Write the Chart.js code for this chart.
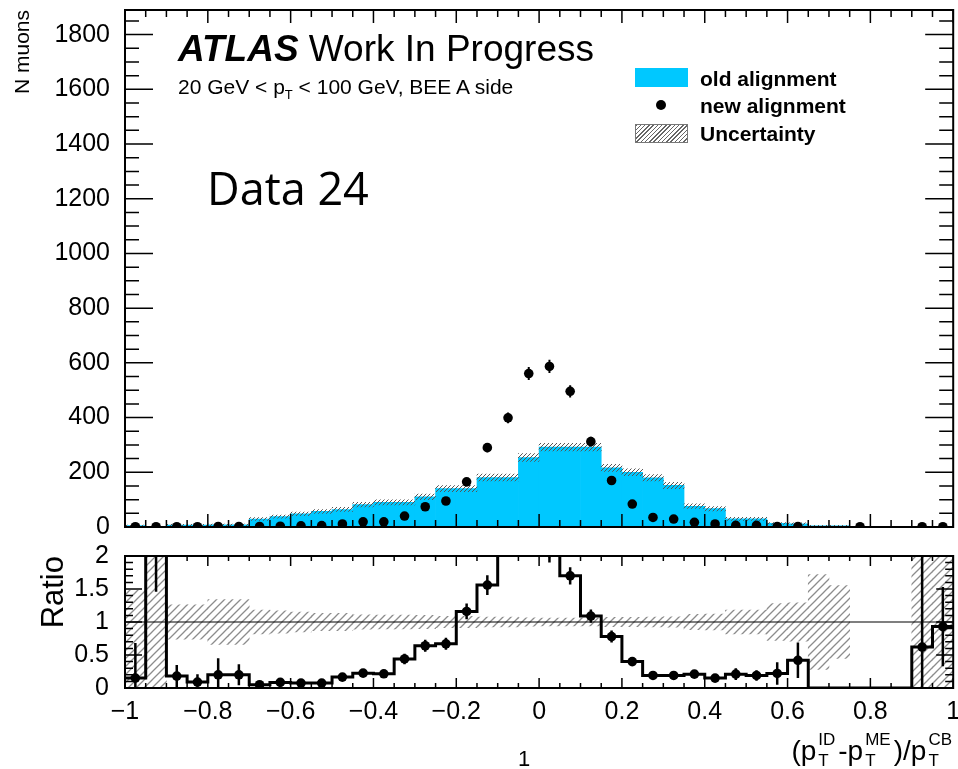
<!DOCTYPE html>
<html>
<head>
<meta charset="utf-8">
<script src="https://cdn.jsdelivr.net/npm/chart.js@4.4.1/dist/chart.umd.min.js"></script>
<style>
  body { margin: 0; background: #fff; }
  #wrap { position: relative; width: 958px; height: 769px; overflow: hidden;
          font-family: "Liberation Sans", Arial, sans-serif; color: #000; }
  canvas { position: absolute; left: 0; top: 0; }
  .txt { position: absolute; white-space: nowrap; line-height: 1; }
  .sub { font-size: 13px; position: relative; top: 5px; }
  .leg { font-weight: bold; font-size: 21px; }
  .st { display: inline-block; vertical-align: -6px; font-size: 17px; margin: 0 3px 0 2px; }
  .st span { display: block; }
  .st .up { line-height: 24px; }
  .st .dn { line-height: 17px; }
</style>
</head>
<body>
<div id="wrap">
  <canvas id="ratio" width="958" height="769"></canvas>
  <canvas id="main" width="958" height="769"></canvas>

  <div class="txt" style="left:178px; top:30px; font-size:37px;"><b><i>ATLAS</i></b> Work In Progress</div>
  <div class="txt" style="left:178px; top:76px; font-size:21px;">20 GeV &lt; p<span class="sub">T</span> &lt; 100 GeV, BEE A side</div>

  <div style="position:absolute; left:635px; top:68px; width:53px; height:19px; background:#00c8ff;"></div>
  <div class="txt leg" style="left:700px; top:68px;">old alignment</div>
  <div style="position:absolute; left:656px; top:100px; width:10px; height:10px; border-radius:50%; background:#000;"></div>
  <div class="txt leg" style="left:700px; top:95px;">new alignment</div>
  <div style="position:absolute; left:635px; top:124px; width:51px; height:17px; border:1px solid #777;
              background:repeating-linear-gradient(135deg, #666 0 1px, #fff 1px 3px);"></div>
  <div class="txt leg" style="left:700px; top:123px;">Uncertainty</div>

  <div class="txt" style="left:207px; top:165px; font-size:45px; font-family:'Open Sans', sans-serif;">Data 24</div>

  <div class="txt" style="right:3px; top:728px; font-size:28px;">(p<span class="st"><span class="up">ID</span><span class="dn">T</span></span>-p<span class="st"><span class="up">ME</span><span class="dn">T</span></span>)/p<span class="st"><span class="up">CB</span><span class="dn">T</span></span></div>
  <div class="txt" style="left:518px; top:748px; font-size:22px;">1</div>
</div>

<script>
// bins of the distribution
const binEdges = [-1, -0.95, -0.9, -0.85, -0.8, -0.75, -0.7, -0.65, -0.6, -0.55, -0.5,
  -0.45, -0.4, -0.35, -0.3, -0.25, -0.2, -0.15, -0.1, -0.05, 0,
  0.05, 0.1, 0.15, 0.2, 0.25, 0.3, 0.35, 0.4, 0.45, 0.5,
  0.55, 0.6, 0.65, 0.7, 0.75, 0.8, 0.85, 0.9, 0.95, 1];

// old alignment (filled histogram) and its uncertainty
const oldAlignment = [5, 0.4, 7, 7, 8, 8, 29, 38, 48, 57, 64, 82, 90, 90, 110, 140, 140, 181, 181, 254,
  292, 292, 292, 216, 200, 180, 152, 76, 67, 30, 30, 13, 12, 4, 4, 0, 0, 0, 1.6, 1.1];
const oldUncert = [2, 0.6, 2.5, 2.5, 2.8, 2.8, 5, 6, 6.5, 7, 7.5, 8.5, 9, 9, 10, 11, 11, 12.5, 12.5, 14,
  14, 14, 14, 13, 12.5, 12, 11.5, 8.5, 8, 5.5, 5.5, 3.5, 3.5, 1.7, 1.7, 0, 0, 0, 1.2, 1];

// new alignment (points) and errors
const newAlignment = [1, 1, 1, 1, 2, 2, 2, 3, 4, 5, 11, 19, 19, 40, 74, 95, 165, 290, 399, 561,
  587, 496, 312, 170, 84, 35, 29, 17, 11, 6, 6, 2, 2, null, null, 1, null, null, 1, 1];
const newUncert = [1, 1, 1, 1, 1.4, 1.4, 1.4, 1.7, 2, 2.2, 3.3, 4.4, 4.4, 6.3, 8.6, 9.7, 12.8, 17, 20, 23.7,
  24.2, 22.3, 17.7, 13, 9.2, 5.9, 5.4, 4.1, 3.3, 2.4, 2.4, 1.4, 1.4, 0, 0, 1, 0, 0, 1, 1];

// ratio panel
const ratioValues = [0.15, 3, 0.18, 0.09, 0.2, 0.2, 0.05, 0.085, 0.075, 0.075, 0.165, 0.225, 0.215, 0.44, 0.64, 0.67, 1.16, 1.56, 2.25, 2.24,
  2.05, 1.7, 1.09, 0.78, 0.4, 0.19, 0.19, 0.21, 0.15, 0.21, 0.19, 0.22, 0.42, 0, 0, 0, 0, 0, 0.62, 0.93];
const ratioUncert = [0.53, 1.54, 0.17, 0.12, 0.25, 0.16, 0.04, 0.05, 0.04, 0.04, 0.05, 0.06, 0.05, 0.08, 0.09, 0.09, 0.12, 0.15, 0.2, 0.17,
  0.15, 0.13, 0.1, 0.09, 0.06, 0.04, 0.04, 0.06, 0.05, 0.09, 0.08, 0.17, 0.27, 0, 0, 0, 0, 0, 1.5, 0.6];
const bandLow = [0, 0, 0.74, 0.74, 0.66, 0.66, 0.82, 0.83, 0.85, 0.87, 0.87, 0.89, 0.895, 0.895, 0.9, 0.915, 0.915, 0.925, 0.925, 0.937,
  0.94, 0.94, 0.94, 0.93, 0.93, 0.925, 0.92, 0.885, 0.88, 0.82, 0.82, 0.72, 0.71, 0.28, 0.45, null, null, null, 0, 0];
const bandHigh = [1.48, 3, 1.26, 1.26, 1.34, 1.34, 1.18, 1.17, 1.15, 1.13, 1.13, 1.11, 1.105, 1.105, 1.1, 1.085, 1.085, 1.075, 1.075, 1.063,
  1.06, 1.06, 1.06, 1.07, 1.07, 1.075, 1.08, 1.115, 1.12, 1.18, 1.18, 1.28, 1.29, 1.72, 1.55, null, null, null, 3, 3];

// axis ticks
const xTicks = [-1, -0.8, -0.6, -0.4, -0.2, 0, 0.2, 0.4, 0.6, 0.8, 1];
const yTicksMain = [0, 200, 400, 600, 800, 1000, 1200, 1400, 1600, 1800];
const yTicksRatio = [0, 0.5, 1, 1.5, 2];

const centers = binEdges.slice(0, -1).map((e, i) => (e + binEdges[i + 1]) / 2);

Chart.defaults.font.family = '"Liberation Sans", Arial, sans-serif';
Chart.defaults.color = '#000';

function makeHatch(size, color, lw) {
  const c = document.createElement('canvas');
  c.width = size; c.height = size;
  const g = c.getContext('2d');
  g.strokeStyle = color; g.lineWidth = lw;
  g.beginPath();
  g.moveTo(0, size); g.lineTo(size, 0);
  g.moveTo(-size / 2, size / 2); g.lineTo(size / 2, -size / 2);
  g.moveTo(size / 2, size * 1.5); g.lineTo(size * 1.5, size / 2);
  g.stroke();
  return g.createPattern(c, 'repeat');
}

// ROOT style frame with inward ticks on all four sides
function frameTicks(o) {
  const isMajor = (v, list) => list.some(m => Math.abs(m - v) < 1e-6);
  return {
    id: 'frameTicks',
    afterDraw(chart) {
      const { ctx, chartArea: a, scales: { x, y } } = chart;
      ctx.save();
      ctx.strokeStyle = '#000';
      ctx.lineWidth = 1.5;
      ctx.beginPath();
      binEdges.forEach(v => {
        const p = x.getPixelForValue(v);
        const L = isMajor(v, xTicks) ? o.xMajor : o.xMinor;
        ctx.moveTo(p, a.bottom); ctx.lineTo(p, a.bottom - L);
        ctx.moveTo(p, a.top); ctx.lineTo(p, a.top + L);
      });
      o.yMinorTicks.forEach(v => {
        const p = y.getPixelForValue(v);
        const L = isMajor(v, o.yMajorTicks) ? o.yMajor : o.yMinor;
        ctx.moveTo(a.left, p); ctx.lineTo(a.left + L, p);
        ctx.moveTo(a.right, p); ctx.lineTo(a.right - L, p);
      });
      ctx.stroke();
      ctx.lineWidth = 2;
      ctx.strokeRect(a.left, a.top, a.right - a.left, a.bottom - a.top);
      ctx.restore();
    }
  };
}

function errorBars(values, errors, width) {
  return {
    id: 'errorBars',
    afterDatasetsDraw(chart) {
      const { ctx, chartArea: a, scales: { x, y } } = chart;
      ctx.save();
      ctx.beginPath();
      ctx.rect(a.left, a.top, a.right - a.left, a.bottom - a.top);
      ctx.clip();
      ctx.strokeStyle = '#000';
      ctx.lineWidth = width;
      values.forEach((v, i) => {
        if (v === null || v <= 0 || !errors[i]) return;
        const px = x.getPixelForValue(centers[i]);
        ctx.beginPath();
        ctx.moveTo(px, y.getPixelForValue(Math.max(0, v - errors[i])));
        ctx.lineTo(px, y.getPixelForValue(v + errors[i]));
        ctx.stroke();
      });
      ctx.restore();
    }
  };
}

const fixLeftAxis = s => { s.width = 125; s.paddingTop = 0; s.paddingBottom = 0; };

const hatchMain = makeHatch(4, '#555', 1);
const hatchRatio = makeHatch(8, '#8c8c8c', 1.3);

// ---------- main panel ----------
const yMinorMain = [];
for (let v = 0; v <= 1850; v += 50) yMinorMain.push(v);

new Chart(document.getElementById('main'), {
  type: 'bar',
  data: {
    datasets: [
      {
        type: 'scatter',
        data: centers.map((c, i) => ({ x: c, y: newAlignment[i] })).filter(p => p.y !== null),
        pointRadius: 4.8, pointBackgroundColor: '#000', pointBorderWidth: 0, order: 0
      },
      {
        type: 'bar',
        data: centers.map((c, i) => ({ x: c, y: [oldAlignment[i] - oldUncert[i], oldAlignment[i] + oldUncert[i]] }))
          .filter((p, i) => oldUncert[i] > 0),
        backgroundColor: hatchMain, borderWidth: 0, grouped: false,
        barPercentage: 1, categoryPercentage: 1, order: 1
      },
      {
        type: 'bar',
        data: centers.map((c, i) => ({ x: c, y: oldAlignment[i] })),
        backgroundColor: '#00c8ff', borderWidth: 0, grouped: false,
        barPercentage: 1, categoryPercentage: 1, order: 2
      }
    ]
  },
  options: {
    responsive: false, animation: false, devicePixelRatio: 1,
    layout: { padding: { left: 0, top: 10, right: 4, bottom: 242 } },
    plugins: { legend: { display: false }, tooltip: { enabled: false } },
    scales: {
      x: { type: 'linear', min: -1, max: 1, offset: false, display: false },
      y: {
        type: 'linear', min: 0, max: 1890,
        grid: { display: false }, border: { display: false },
        afterBuildTicks: s => { s.ticks = yTicksMain.map(v => ({ value: v })); },
        afterFit: fixLeftAxis,
        ticks: { font: { size: 25 }, padding: 7, callback: v => String(v) },
        title: { display: true, text: 'N muons', align: 'end', font: { size: 21 }, padding: { top: 11, bottom: 0 } }
      }
    }
  },
  plugins: [
    errorBars(newAlignment, newUncert, 2),
    frameTicks({ xMajor: 13, xMinor: 7, yMajor: 28, yMinor: 14, yMajorTicks: yTicksMain, yMinorTicks: yMinorMain })
  ]
});

// ---------- ratio panel ----------
const yMinorRatio = [];
for (let k = 0; k <= 20; k++) yMinorRatio.push(k / 10);

const stepPts = binEdges.map((e, i) => ({ x: e, y: ratioValues[Math.min(i, ratioValues.length - 1)] }));

new Chart(document.getElementById('ratio'), {
  type: 'bar',
  data: {
    datasets: [
      {
        type: 'scatter',
        data: centers.map((c, i) => ({ x: c, y: ratioValues[i] })).filter(p => p.y > 0),
        pointRadius: 4.8, pointBackgroundColor: '#000', pointBorderWidth: 0, order: 0
      },
      {
        type: 'line', data: stepPts, stepped: 'before',
        borderColor: '#000', borderWidth: 3, pointRadius: 0, fill: false, order: 1
      },
      {
        type: 'line', data: [{ x: -1, y: 1 }, { x: 1, y: 1 }],
        borderColor: '#000', borderWidth: 1.2, pointRadius: 0, fill: false, order: 2
      },
      {
        type: 'bar',
        data: centers.map((c, i) => ({ x: c, y: [bandLow[i], bandHigh[i]] })).filter(p => p.y[0] !== null),
        backgroundColor: hatchRatio, borderWidth: 0, grouped: false,
        barPercentage: 1, categoryPercentage: 1, order: 3
      }
    ]
  },
  options: {
    responsive: false, animation: false, devicePixelRatio: 1,
    layout: { padding: { left: 0, top: 556, right: 4, bottom: 41 } },
    plugins: { legend: { display: false }, tooltip: { enabled: false } },
    scales: {
      x: {
        type: 'linear', min: -1, max: 1, offset: false,
        grid: { display: false }, border: { display: false },
        afterBuildTicks: s => { s.ticks = xTicks.map(v => ({ value: v })); },
        afterFit: s => { s.height = 40; s.paddingLeft = 0; s.paddingRight = 0; },
        ticks: {
          font: { size: 25 }, padding: 1, autoSkip: false, maxRotation: 0,
          callback: v => (v < 0 ? '\u2212' : '') + String(Math.abs(v))
        }
      },
      y: {
        type: 'linear', min: 0, max: 2,
        grid: { display: false }, border: { display: false },
        afterBuildTicks: s => { s.ticks = yTicksRatio.map(v => ({ value: v })); },
        afterFit: fixLeftAxis,
        ticks: { font: { size: 25 }, padding: 8, callback: v => String(v) },
        title: { display: true, text: 'Ratio', align: 'end', font: { size: 31 }, padding: { top: 36, bottom: 0 } }
      }
    }
  },
  plugins: [
    errorBars(ratioValues, ratioUncert, 2.5),
    frameTicks({ xMajor: 10, xMinor: 5, yMajor: 17, yMinor: 8, yMajorTicks: yTicksRatio, yMinorTicks: yMinorRatio })
  ]
});
</script>
</body>
</html>
